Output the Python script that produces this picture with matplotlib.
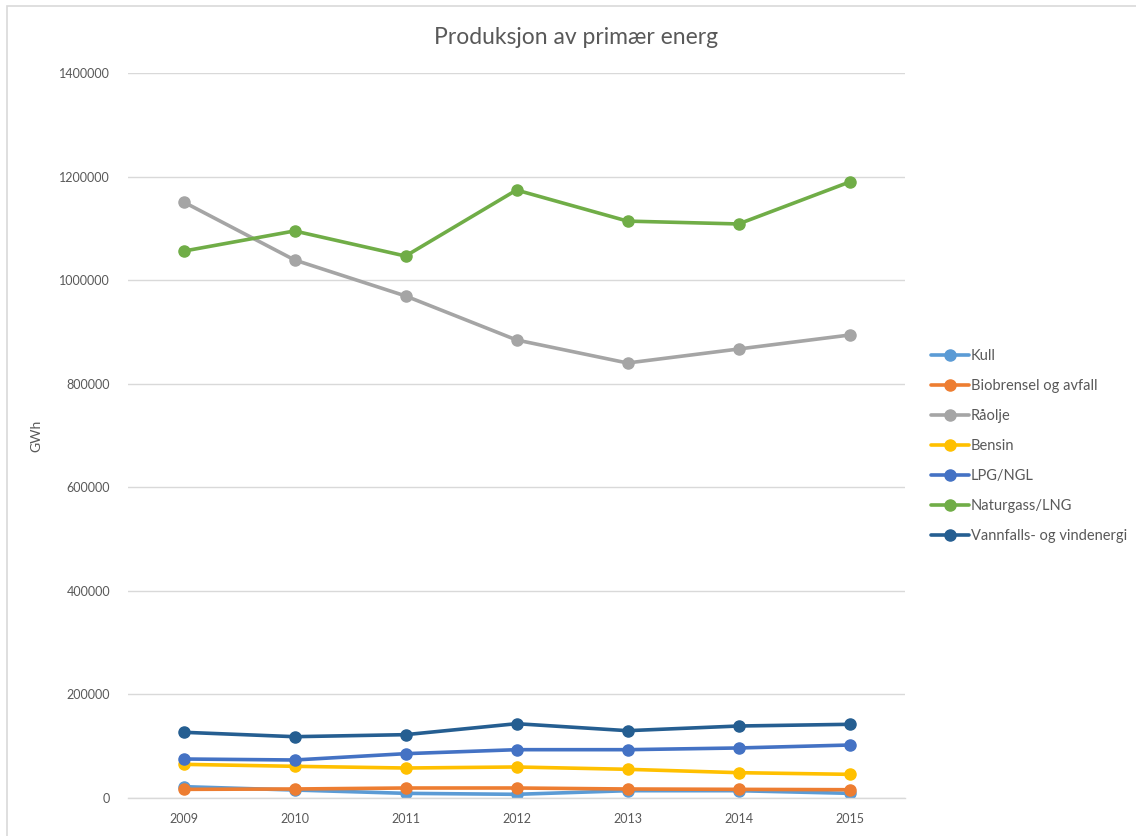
import matplotlib
matplotlib.use("Agg")
import matplotlib.pyplot as plt
from matplotlib.patches import Rectangle

plt.rcParams['font.family'] = ['Lato', 'DejaVu Sans']

years = ["2009", "2010", "2011", "2012", "2013", "2014", "2015"]

kull = [21900, 15400, 9000, 7100, 14100, 14100, 9000]
biobrensel = [16700, 17400, 19300, 19300, 17400, 16700, 16000]
raolje = [1151000, 1039000, 969500, 884500, 840000, 867000, 894000]
bensin = [65000, 61200, 57900, 59900, 55400, 48900, 45700]
lpg_ngl = [75300, 73400, 85600, 93300, 93300, 96600, 102300]
naturgass = [1056000, 1095000, 1046500, 1174000, 1114000, 1108500, 1189500]
vannfalls = [126900, 118400, 122300, 143500, 130000, 139000, 142300]

series = [
    ("Kull", kull, "#5B9BD5"),
    ("Biobrensel og avfall", biobrensel, "#ED7D31"),
    ("Råolje", raolje, "#A5A5A5"),
    ("Bensin", bensin, "#FFC000"),
    ("LPG/NGL", lpg_ngl, "#4472C4"),
    ("Naturgass/LNG", naturgass, "#70AD47"),
    ("Vannfalls- og vindenergi", vannfalls, "#255E91"),
]

text_color = "#595959"
grid_color = "#D9D9D9"

fig = plt.figure(figsize=(11.36, 8.36), dpi=100)
W, H = 1136, 836

# outer chart frame
fig.patches.append(Rectangle((7 / W, -0.1), 1.2, (1 - 6 / H) + 0.1,
                             transform=fig.transFigure, fill=False,
                             edgecolor="#D9D9D9", linewidth=1.2))

ax = fig.add_axes([128 / W, 1 - 798 / H, (905 - 128) / W, (798 - 73) / H])

x = list(range(len(years)))
for name, vals, color in series:
    ax.plot(x, vals, color=color, linewidth=2.6, marker="o",
            markersize=8, label=name, solid_capstyle="round")

ax.set_xlim(-0.5, len(years) - 0.5)
ax.set_ylim(0, 1400000)
ax.set_yticks(range(0, 1400001, 200000))
ax.set_yticklabels([str(v) for v in range(0, 1400001, 200000)])
ax.set_xticks(x)
ax.set_xticklabels(years)

ax.grid(axis="y", color=grid_color, linewidth=1)
ax.set_axisbelow(True)
for side in ["top", "right", "left"]:
    ax.spines[side].set_visible(False)
ax.spines["bottom"].set_color(grid_color)
ax.spines["bottom"].set_linewidth(1)

ax.tick_params(axis="both", length=0, labelsize=9, colors=text_color)
ax.tick_params(axis="y", pad=13)
ax.tick_params(axis="x", pad=11)

ax.set_ylabel("GWh", fontsize=10, color=text_color)
ax.yaxis.set_label_coords((42 - 128) / (905 - 128), 0.5)

fig.text(576 / W, 1 - 38 / H, "Produksjon av primær energ",
         ha="center", va="center", fontsize=16.5, color=text_color)

leg = ax.legend(loc="upper left", bbox_to_anchor=(925 / W, 1 - 343 / H),
                bbox_transform=fig.transFigure, frameon=False,
                fontsize=10.5, labelcolor=text_color, handlelength=2.6,
                handletextpad=0.15, labelspacing=1.1, borderaxespad=0)

fig.savefig("out.png", dpi=100, facecolor="white")
